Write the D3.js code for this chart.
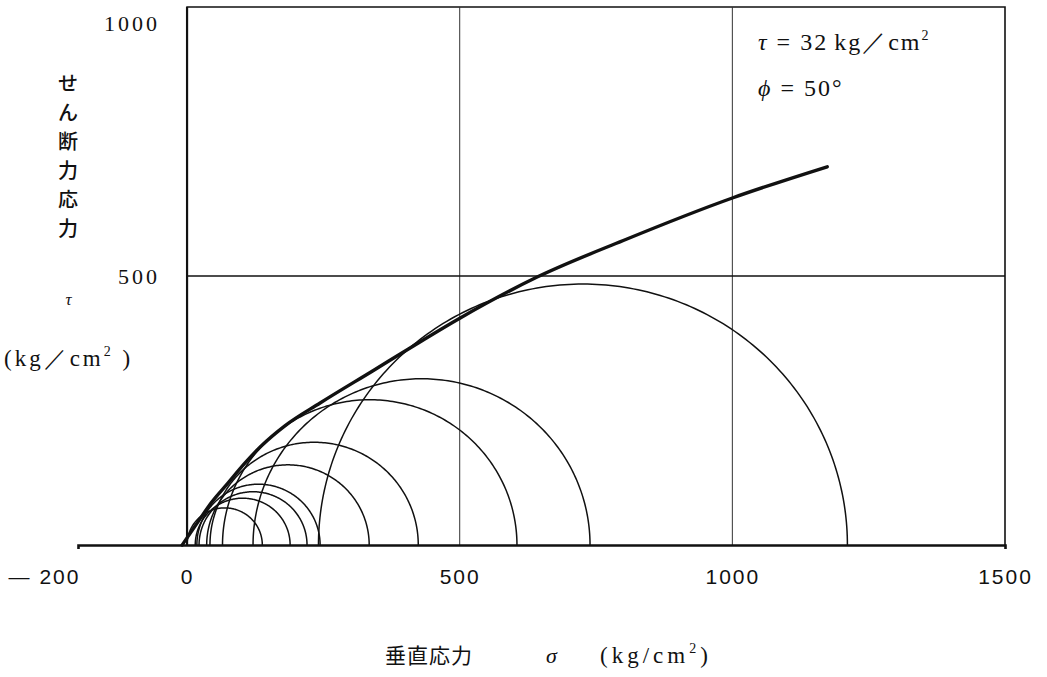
<!DOCTYPE html>
<html>
<head>
<meta charset="utf-8">
<title>Mohr circles</title>
<script src="https://d3js.org/d3.v7.min.js"></script>
<style>
  body { margin: 0; background: #fff; }
  .num { font-family: "Liberation Serif", serif; font-size: 22px; letter-spacing: 3px; fill: #111; }
  .xnum { font-family: "Liberation Sans", sans-serif; font-size: 21px; letter-spacing: 2px; fill: #111; }
  .jp { font-family: "Noto Sans CJK JP", sans-serif; font-size: 20px; fill: #111; }
</style>
</head>
<body>
<div id="chart"></div>
<script>
// triaxial test results, σ3 / σ1 of each circle (kg/cm2)
const sigma3 = [0, 15, 22, 18, 36, 42, 65, 121, 241];
const sigma1 = [138, 189, 220, 244, 334, 424, 605, 739, 1211];

// failure envelope
const envSigma = [-9, 20, 44, 75, 106, 136, 180, 244, 341, 415, 501, 642, 800, 1000, 1174];
const envTau   = [0, 43, 78, 115, 152, 184, 222, 264, 324, 370, 422, 498, 566, 645, 703];

const xTicks = [-200, 0, 500, 1000, 1500];
const yTicks = [500, 1000];
const xGrid = [500, 1000];
const yGrid = [500];

const W = 1047, H = 677;

const x = d3.scaleLinear().domain([-200, 1500]).range([78, 1005]);
const y = d3.scaleLinear().domain([0, 1000]).range([545, 7]);

const svg = d3.select("#chart").append("svg")
    .attr("width", W).attr("height", H);

// frame (y axis on the left, right border, top border)
svg.append("path")
    .attr("d", "M" + x(0) + "," + y(0) + "V" + y(1000) + "H" + x(1500) + "V" + y(0))
    .attr("fill", "none").attr("stroke", "#111").attr("stroke-width", 1.6);
svg.append("line")
    .attr("x1", x(0)).attr("x2", x(0)).attr("y1", y(0)).attr("y2", y(1000))
    .attr("stroke", "#111").attr("stroke-width", 2.2);

// grid
svg.selectAll(".vg").data(xGrid).enter().append("line")
    .attr("x1", d => x(d)).attr("x2", d => x(d))
    .attr("y1", y(0)).attr("y2", y(1000))
    .attr("stroke", "#333").attr("stroke-width", 1);
svg.selectAll(".hg").data(yGrid).enter().append("line")
    .attr("x1", x(0)).attr("x2", x(1500))
    .attr("y1", d => y(d)).attr("y2", d => y(d))
    .attr("stroke", "#111").attr("stroke-width", 1.5);

// x axis
const xAxis = d3.axisBottom(x).tickValues(xTicks).tickSizeInner(0).tickSizeOuter(4).tickPadding(24)
    .tickFormat(d => d < 0 ? "\u2014 " + (-d) : d);
const gx = svg.append("g").attr("transform", "translate(0," + y(0) + ")").call(xAxis);
gx.select(".domain").attr("stroke", "#111").attr("stroke-width", 2.6);
gx.selectAll("text").attr("class", "xnum").attr("font-size", null).attr("font-family", null);
gx.selectAll(".tick").filter(d => d === -200).select("text").attr("dx", -34);

// y axis labels
const yAxis = d3.axisLeft(y).tickValues(yTicks).tickSize(0).tickPadding(27).tickFormat(d3.format("d"));
const gy = svg.append("g").attr("transform", "translate(" + x(0) + ",0)").call(yAxis);
gy.select(".domain").remove();
gy.selectAll("text").attr("class", "num").attr("font-size", null).attr("font-family", null);
gy.selectAll(".tick").filter(d => d === 1000).select("text").attr("dy", "1.05em");

// Mohr circles
const circ = d3.line().x(p => x(p[0])).y(p => y(p[1]));
const circles = sigma3.map((s3, i) => {
    const c = (s3 + sigma1[i]) / 2, r = (sigma1[i] - s3) / 2;
    return d3.range(0, 181).map(a => {
        const t = a * Math.PI / 180;
        return [c + r * Math.cos(t), r * Math.sin(t)];
    });
});
svg.selectAll(".circle").data(circles).enter().append("path")
    .attr("d", circ)
    .attr("fill", "none").attr("stroke", "#111").attr("stroke-width", 1.5);

// envelope
const env = envSigma.map((s, i) => [s, envTau[i]]);
svg.append("path")
    .datum(env)
    .attr("d", d3.line().x(d => x(d[0])).y(d => y(d[1])).curve(d3.curveMonotoneX))
    .attr("fill", "none").attr("stroke", "#111").attr("stroke-width", 3.4)
    .attr("stroke-linecap", "round");

// parameters
svg.append("text").attr("class", "num").attr("x", 758).attr("y", 50)
    .style("font-size", "24px").style("letter-spacing", "2px")
    .html("<tspan font-style='italic'>τ</tspan> = 32<tspan dx='6'>kg／cm</tspan><tspan font-size='14' dy='-10'>2</tspan>");
svg.append("text").attr("class", "num").attr("x", 758).attr("y", 96)
    .style("font-size", "24px").style("letter-spacing", "2px")
    .html("<tspan font-style='italic'>ϕ</tspan> = 50°");

// y title, vertical
const yTitle = ["せ", "ん", "断", "力", "応", "力"];
svg.selectAll(".yt").data(yTitle).enter().append("text")
    .attr("class", "jp")
    .attr("x", 68).attr("y", (d, i) => 91 + i * 29)
    .attr("text-anchor", "middle").style("font-weight", "500")
    .text(d => d);
svg.append("text").attr("class", "num").attr("x", 70).attr("y", 305)
    .attr("text-anchor", "middle").attr("font-style", "italic").style("font-size", "17px")
    .text("τ");
svg.append("text").attr("class", "num").attr("x", 4).attr("y", 366)
    .style("font-size", "23px").style("letter-spacing", "3px")
    .html("(kg／cm<tspan font-size='14' dy='-10'>2</tspan><tspan dy='10'> )</tspan>");

// x title
svg.append("text").attr("class", "jp").attr("x", 385).attr("y", 663).style("font-size", "21px")
    .style("letter-spacing", "1px").text("垂直応力");
svg.append("text").attr("class", "num").attr("x", 546).attr("y", 663)
    .attr("font-style", "italic").text("σ");
svg.append("text").attr("class", "num").attr("x", 600).attr("y", 663)
    .style("font-size", "23px").style("letter-spacing", "4px")
    .html("(kg/cm<tspan font-size='14' dy='-10'>2</tspan><tspan dy='10'>)</tspan>");
</script>
</body>
</html>
